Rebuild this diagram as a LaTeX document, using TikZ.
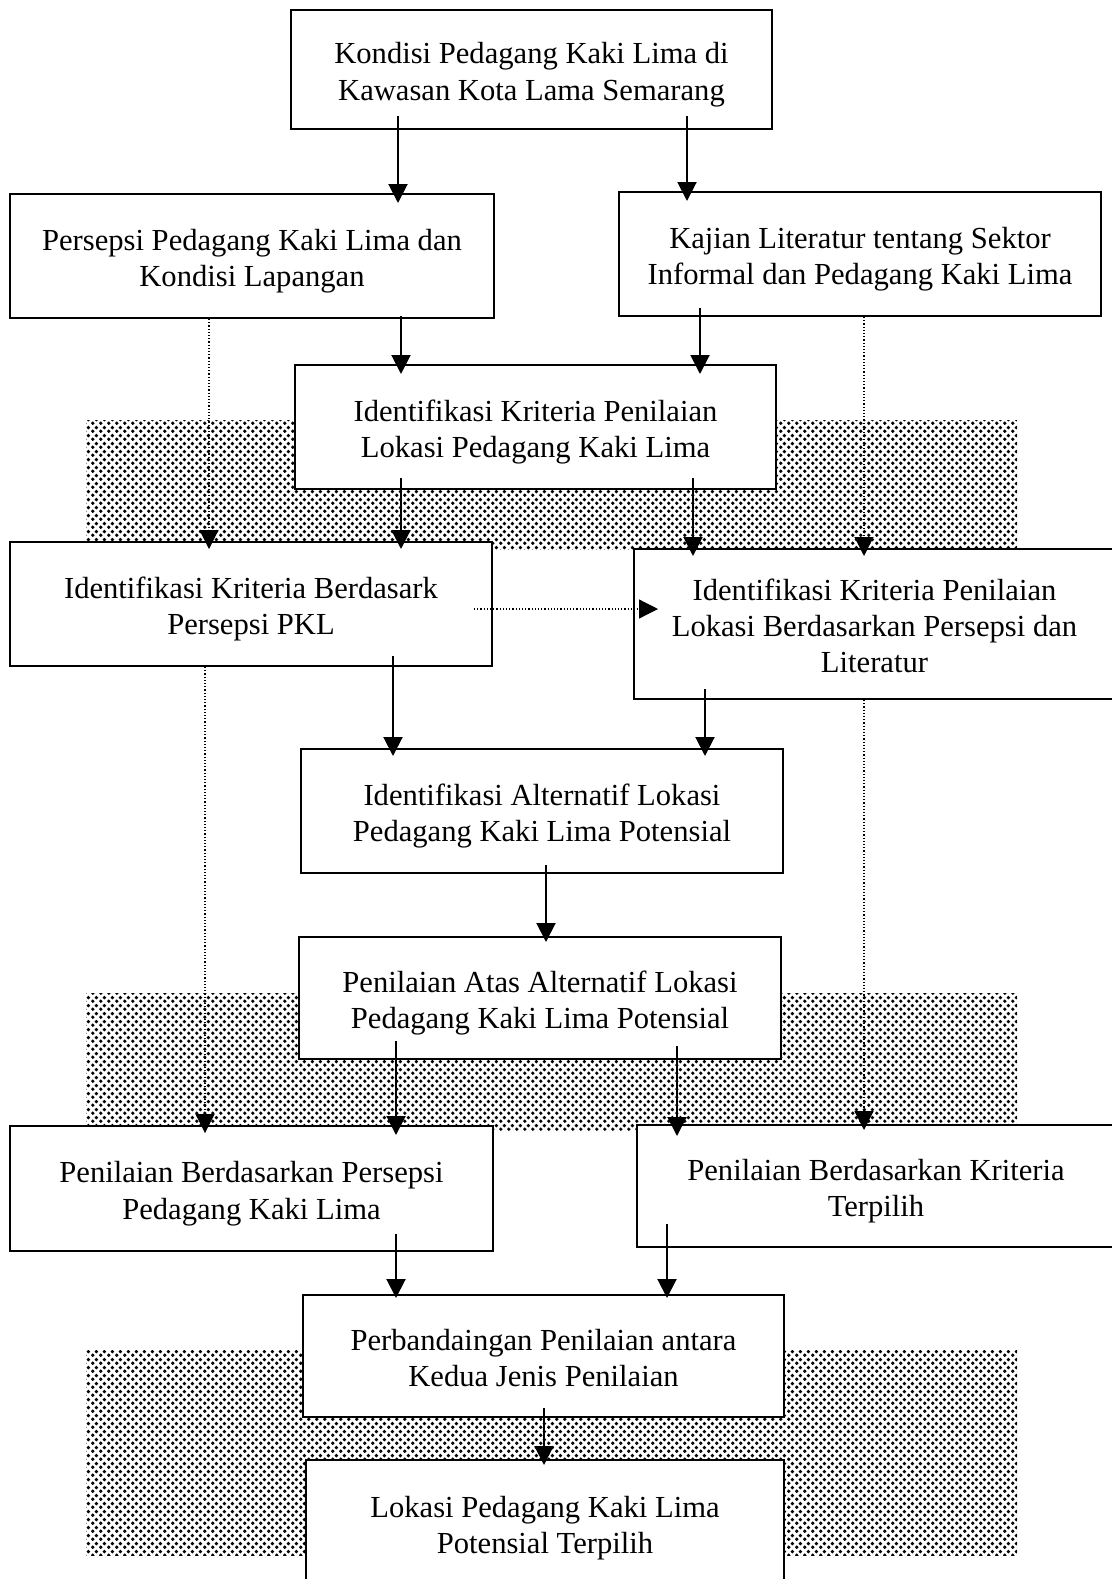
\documentclass[tikz,border=0pt]{standalone}
\usepackage{fontspec}
\setmainfont{Liberation Serif}
\usetikzlibrary{arrows.meta,patterns}
\pgfdeclarepatternformonly{halftone}{\pgfqpoint{0pt}{0pt}}{\pgfqpoint{3.8pt}{3.8pt}}{\pgfqpoint{3.8pt}{3.8pt}}{%
  \pgfpathcircle{\pgfqpoint{0.95pt}{0.95pt}}{0.98pt}%
  \pgfpathcircle{\pgfqpoint{2.85pt}{2.85pt}}{0.98pt}%
  \pgfusepath{fill}}
\newcommand\boxtext[1]{\raisebox{-2.6pt}[\height][\depth]{\begin{tabular}{@{}c@{}}#1\end{tabular}}}
\tikzset{
  box/.style={draw, line width=1pt, fill=white, align=center, inner sep=0pt,
    font=\fontsize{15.3}{18.2}\selectfont},
  shade/.style={pattern=halftone, pattern color=black},
  arr/.style={line width=1pt, -{Triangle[width=9.5pt,length=9.5pt]}},
  darr/.style={line width=0.6pt, densely dotted, -{Triangle[width=9.5pt,length=9.5pt]}},
}
\begin{document}
\begin{tikzpicture}[x=0.5pt,y=-0.5pt]
\useasboundingbox (0,0) rectangle (1112,1579);
\clip (0,0) rectangle (1112,1579);
% shaded bands
\fill[shade] (86,420) rectangle (1017,549);
\fill[shade] (86,993) rectangle (1017,1130);
\fill[shade] (86,1350) rectangle (1017,1555);
% boxes
\node[box, minimum width=240.5pt, minimum height=59.5pt] (b1) at (531.5,69.5)
  {\boxtext{Kondisi Pedagang Kaki Lima di\\Kawasan Kota Lama Semarang}};
\node[box, minimum width=242pt, minimum height=62pt] (b2) at (252,256)
  {\boxtext{Persepsi Pedagang Kaki Lima dan\\Kondisi Lapangan}};
\node[box, minimum width=241pt, minimum height=62pt] (b3) at (860,254)
  {\boxtext{Kajian Literatur tentang Sektor\\Informal dan Pedagang Kaki Lima}};
\node[box, minimum width=240.5pt, minimum height=62pt] (b4) at (535.5,427)
  {\boxtext{Identifikasi Kriteria Penilaian\\Lokasi Pedagang Kaki Lima}};
\node[box, minimum width=241pt, minimum height=62pt] (b5) at (251,604)
  {\boxtext{Identifikasi Kriteria Berdasark\\Persepsi PKL}};
\node[box, minimum width=240.5pt, minimum height=75pt] (b6) at (874.5,624)
  {\boxtext{Identifikasi Kriteria Penilaian\\Lokasi Berdasarkan Persepsi dan\\Literatur}};
\node[box, minimum width=241pt, minimum height=62pt] (b7) at (542,811)
  {\boxtext{Identifikasi Alternatif Lokasi\\Pedagang Kaki Lima Potensial}};
\node[box, minimum width=241pt, minimum height=61pt] (b8) at (540,998)
  {\boxtext{Penilaian Atas Alternatif Lokasi\\Pedagang Kaki Lima Potensial}};
\node[box, minimum width=241.5pt, minimum height=62.5pt] (b9) at (251.5,1188.5)
  {\boxtext{Penilaian Berdasarkan Persepsi\\Pedagang Kaki Lima}};
\node[box, minimum width=239pt, minimum height=61pt] (b10) at (876,1186)
  {\boxtext{Penilaian Berdasarkan Kriteria\\Terpilih}};
\node[box, minimum width=240.5pt, minimum height=61pt] (b11) at (543.5,1356)
  {\boxtext{Perbandaingan Penilaian antara\\Kedua Jenis Penilaian}};
\node[box, minimum width=239pt, minimum height=63pt] (b12) at (545,1523)
  {\boxtext{Lokasi Pedagang Kaki Lima\\Potensial Terpilih}};
% connector columns
\coordinate (xa) at (398,0);
\coordinate (xb) at (687,0);
\coordinate (xc) at (401,0);
\coordinate (xd) at (700,0);
\coordinate (xe) at (209,0);
\coordinate (xf) at (693,0);
\coordinate (xg) at (864,0);
\coordinate (xh) at (393,0);
\coordinate (xi) at (705,0);
\coordinate (xj) at (546,0);
\coordinate (xk) at (205,0);
\coordinate (xl) at (396,0);
\coordinate (xm) at (677,0);
\coordinate (xn) at (667,0);
\coordinate (xo) at (544,0);
\coordinate (yp) at (0,609);
% solid connectors
\draw[arr] ([yshift=7pt]b1.south -| xa) -- ([yshift=-5pt]b2.north -| xa);
\draw[arr] ([yshift=7pt]b1.south -| xb) -- ([yshift=-5pt]b3.north -| xb);
\draw[arr] ([yshift=1.5pt]b2.south -| xc) -- ([yshift=-5pt]b4.north -| xc);
\draw[arr] ([yshift=4.5pt]b3.south -| xd) -- ([yshift=-5pt]b4.north -| xd);
\draw[arr] ([yshift=6pt]b4.south -| xc) -- ([yshift=-4pt]b5.north -| xc);
\draw[arr] ([yshift=6pt]b4.south -| xf) -- ([yshift=-4pt]b6.north -| xf);
\draw[arr] ([yshift=5.5pt]b5.south -| xh) -- ([yshift=-4pt]b7.north -| xh);
\draw[arr] ([yshift=5.5pt]b6.south -| xi) -- ([yshift=-4pt]b7.north -| xi);
\draw[arr] ([yshift=4.5pt]b7.south -| xj) -- ([yshift=-3pt]b8.north -| xj);
\draw[arr] ([yshift=9.5pt]b8.south -| xl) -- ([yshift=-5pt]b9.north -| xl);
\draw[arr] ([yshift=7pt]b8.south -| xm) -- ([yshift=-6pt]b10.north -| xm);
\draw[arr] ([yshift=9pt]b9.south -| xl) -- ([yshift=-2pt]b11.north -| xl);
\draw[arr] ([yshift=12pt]b10.south -| xn) -- ([yshift=-2pt]b11.north -| xn);
\draw[arr] ([yshift=5pt]b11.south -| xo) -- ([yshift=-3pt]b12.north -| xo);
% dotted connectors
\draw[darr] (b2.south -| xe) -- ([yshift=-4pt]b5.north -| xe);
\draw[darr] (b3.south -| xg) -- ([yshift=-4pt]b6.north -| xg);
\draw[darr] ([xshift=-9.5pt]b5.east |- yp) -- ([xshift=12.5pt]b6.west |- yp);
\draw[darr] (b5.south -| xk) -- ([yshift=-4pt]b9.north -| xk);
\draw[darr] (b6.south -| xg) -- ([yshift=-3pt]b10.north -| xg);
\end{tikzpicture}
\end{document}
